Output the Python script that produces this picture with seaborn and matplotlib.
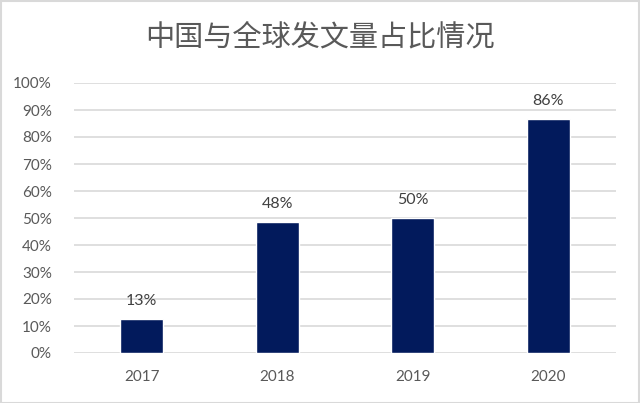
import matplotlib
matplotlib.use("Agg")
import matplotlib.pyplot as plt
import seaborn as sns
import pandas as pd
from matplotlib.patches import Rectangle
from matplotlib.ticker import PercentFormatter

years = ["2017", "2018", "2019", "2020"]
shares = [0.126, 0.485, 0.50, 0.866]
labels = ["13%", "48%", "50%", "86%"]
title = "中国与全球发文量占比情况"

sns.set_theme(style="white")
plt.rcParams['font.family'] = ['Lato', 'Noto Sans CJK SC', 'DejaVu Sans']

df = pd.DataFrame({"year": years, "share": shares})

fig = plt.figure(figsize=(6.4, 4.03), dpi=100)
ax = fig.add_axes([74/640, 1-353/403, (616-74)/640, (353-83)/403])

sns.barplot(data=df, x="year", y="share", color="#021A5C", width=0.32,
            saturation=1, ax=ax, zorder=3)

ax.set_ylim(0, 1)
ax.set_yticks([i/10 for i in range(11)])
ax.yaxis.set_major_formatter(PercentFormatter(1.0, decimals=0))
ax.grid(axis='y', color='#D9D9D9', linewidth=1.2, zorder=0)
ax.set_axisbelow(True)
for s in ax.spines.values():
    s.set_visible(False)
ax.set_xlabel("")
ax.set_ylabel("")
ax.tick_params(axis='both', length=0, colors='#595959', labelsize=11)
ax.tick_params(axis='y', pad=16)
ax.tick_params(axis='x', pad=12)

for i, (v, t) in enumerate(zip(shares, labels)):
    ax.annotate(t, (i, v), xytext=(0, 8), textcoords='offset points',
                ha='center', va='bottom', fontsize=11.5, color='#404040')

fig.text(0.5, 1-37/403, title, ha='center', va='center', fontsize=21,
         color='#595959', fontweight='light',
         family=['Noto Sans CJK SC', 'DejaVu Sans'])

fig.patches.append(Rectangle((0.5/640, 0.5/403), 1-1.5/640, 1-1.5/403,
                             transform=fig.transFigure, fill=False,
                             edgecolor='#D9D9D9', linewidth=1.5))

fig.savefig("out.png", dpi=100)
